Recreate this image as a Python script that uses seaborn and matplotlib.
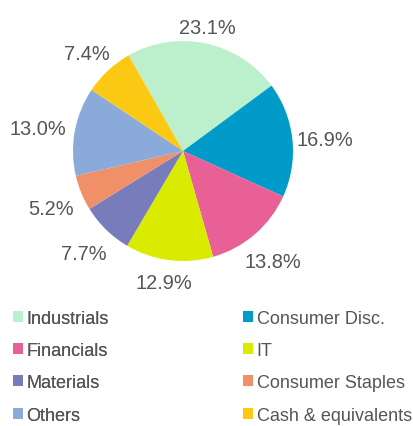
import numpy as np
import matplotlib
matplotlib.use("Agg")
import matplotlib.pyplot as plt
from matplotlib.patches import Patch
import seaborn as sns

# Sector allocation (percent of portfolio)
sectors = ["Industrials", "Consumer Disc.", "Financials", "IT",
           "Materials", "Consumer Staples", "Others", "Cash & equivalents"]
weights = [23.1, 16.9, 13.8, 12.9, 7.7, 5.2, 13.0, 7.4]
colors = ["#BCEFCC", "#009BC8", "#E86096", "#D9EC00",
          "#787CBA", "#F09068", "#8AABD9", "#FBC914"]

sns.set_theme(style="white")
plt.rcParams["font.family"] = ["Liberation Sans", "DejaVu Sans"]
TEXT = "#555555"

W, H = 413, 427
fig = plt.figure(figsize=(W / 100, H / 100), dpi=100)
fig.patch.set_facecolor("white")

# pie centre / radius in pixels (from top-left)
cx, cy, rad = 183, 152, 110
half = 150
ax = fig.add_axes([(cx - half) / W, 1 - (cy + half) / H, 2 * half / W, 2 * half / H])
lim = half / rad

wedges, _ = ax.pie(weights, colors=colors, startangle=119.6, counterclock=False,
                   radius=1.0, wedgeprops=dict(linewidth=0), frame=True)
ax.set_xlim(-lim, lim)
ax.set_ylim(-lim, lim)
ax.set_aspect("equal")
ax.axis("off")

# percentage labels just outside each slice
fig.canvas.draw()
renderer = fig.canvas.get_renderer()
px = rad  # pixels per data unit
gap = 5.5 / px
dx, dy = -2.5 / px, -4 / px
for w, v in zip(wedges, weights):
    ang = np.deg2rad((w.theta1 + w.theta2) / 2)
    t = ax.text(0, 0, f"{v:.1f}%", fontsize=14.4, color=TEXT,
                ha="center", va="center")
    bb = t.get_window_extent(renderer)
    hw = bb.width / 2 / px
    hh = bb.height / 2 / px
    d = 1 + gap + hw * abs(np.cos(ang)) + hh * abs(np.sin(ang))
    t.set_position((d * np.cos(ang) + dx, d * np.sin(ang) + dy))

# two-column legend, filled row by row
handles = [Patch(facecolor=c, edgecolor="none") for c in colors]
legend_kw = dict(loc="upper left", frameon=False, fontsize=13, labelcolor=TEXT,
                 handlelength=0.55, handleheight=0.55, handletextpad=0.2,
                 labelspacing=0.85, borderpad=0, borderaxespad=0)
anchor_y = 1 - 310.5 / H
left = fig.legend(handles[0::2], sectors[0::2],
                  bbox_to_anchor=(13 / W, anchor_y), **legend_kw)
fig.add_artist(left)
fig.legend(handles[1::2], sectors[1::2],
           bbox_to_anchor=(243 / W, anchor_y), **legend_kw)

fig.savefig("out.png", dpi=100, facecolor="white")
